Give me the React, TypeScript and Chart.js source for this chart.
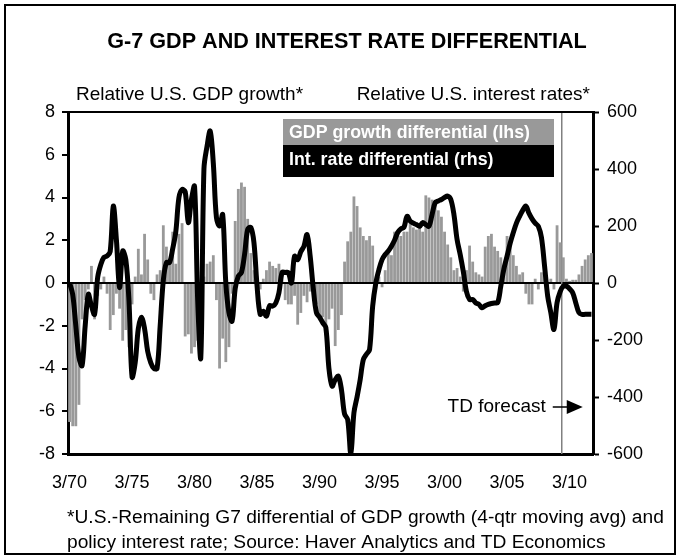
import React, { useEffect, useRef } from 'react';
import { Chart, registerables } from 'chart.js';

Chart.register(...registerables);

const FONT = '"Liberation Sans", Arial, Helvetica, sans-serif';

// Categories: quarters 1970Q1 .. 2011Q4
const firstYear = 1970;
const lastYear = 2011;
const quarters: string[] = [];
for (let y = firstYear; y <= lastYear; y++) {
  for (let q = 1; q <= 4; q++) quarters.push(`${y}Q${q}`);
}

// GDP growth differential (lhs, %), one value per quarter
const gdpDifferential: number[] = [
  -6.5, -6.7, -6.7, -5.7, // 1970
  -1.7, -0.8, -0.3, 0.8, // 1971
  -1.7, -0.6, -0.3, 0.3, // 1972
  -0.5, -2.2, -1.5, -0.5, // 1973
  -1.2, -2.7, -2.2, -3.0, // 1974
  -1.0, 0.3, 1.6, 0.4, // 1975
  2.3, 1.1, -0.5, -0.8, // 1976
  0.4, 0.6, 2.7, 1.7, // 1977
  0.9, 2.4, 0.9, 2.3, // 1978
  2.8, -2.5, -2.4, -3.3, // 1979
  -3.0, -2.7, -3.5, 0.3, // 1980
  0.9, 1.0, 1.3, -0.8, // 1981
  -4.0, -2.6, -3.7, -3.0, // 1982
  -0.5, 2.9, 4.4, 4.7, // 1983
  4.5, 3.0, 1.4, 0.6, // 1984
  0.3, -0.3, 0.2, 0.6, // 1985
  1.0, 0.8, 0.7, 0.9, // 1986
  0.5, -0.8, -1.0, -1.0, // 1987
  -0.6, -1.95, -1.4, -0.6, // 1988
  -0.9, -0.4, -0.5, -1.0, // 1989
  -1.6, -1.6, -2.1, -1.7, // 1990
  -1.2, -2.95, -2.2, -1.5, // 1991
  1.0, 1.95, 2.4, 4.05, // 1992
  3.6, 2.6, 2.2, 2.0, // 1993
  2.2, 1.75, -0.3, 0.3, // 1994
  -0.2, 0.6, 1.4, 1.3, // 1995
  2.4, 2.3, 2.2, 2.4, // 1996
  2.4, 2.8, 2.6, 2.5, // 1997
  2.7, 2.4, 4.1, 4.0, // 1998
  3.9, 3.6, 3.4, 3.1, // 1999
  2.4, 1.8, 1.2, 0.6, // 2000
  0.7, 0.3, -0.4, 0.6, // 2001
  1.75, 1.0, 0.5, 0.4, // 2002
  0.3, 1.7, 2.2, 2.3, // 2003
  1.7, 1.5, 1.2, 0.5, // 2004
  2.2, 1.9, 1.3, 0.8, // 2005
  0.4, 0.5, -0.5, -1.0, // 2006
  -1.0, 0.2, -0.3, 0.5, // 2007
  0.9, -0.5, 0.2, -0.3, // 2008
  2.7, 1.9, 1.2, 0.2, // 2009
  0.1, 0.15, 0.15, 0.4, // 2010
  0.8, 1.1, 1.3, 1.4, // 2011
];

// Policy interest rate differential (rhs, basis points), one value per quarter
const rateDifferential: number[] = [
  0, -40, -150, -260, // 1970
  -290, -150, -40, -80, // 1971
  -110, 20, 65, 90, // 1972
  95, 110, 270, 150, // 1973
  -16, 112, 82, -60, // 1974
  -330, -280, -160, -120, // 1975
  -160, -240, -280, -300, // 1976
  -300, -150, 10, 72, // 1977
  72, 120, 180, 300, // 1978
  328, 320, 212, 293, // 1979
  339, -60, -261, 400, // 1980
  480, 533, 420, 230, // 1981
  200, 240, 0, -104, // 1982
  -134, -20, 24, 37, // 1983
  100, 188, 195, 142, // 1984
  -11, -110, -99, -116, // 1985
  -80, -81, -70, -34, // 1986
  37, 37, 37, 0, // 1987
  94, 82, 110, 129, // 1988
  170, 94, -20, -104, // 1989
  -120, -139, -156, -300, // 1990
  -362, -340, -327, -374, // 1991
  -460, -479, -600, -455, // 1992
  -400, -339, -269, -250, // 1993
  -234, -81, 0, 47, // 1994
  82, 100, 112, 129, // 1995
  150, 177, 190, 195, // 1996
  234, 217, 210, 205, // 1997
  199, 212, 205, 199, // 1998
  240, 282, 288, 293, // 1999
  300, 305, 293, 240, // 2000
  153, 100, 40, -30, // 2001
  -58, -58, -70, -75, // 2002
  -87, -80, -75, -72, // 2003
  -70, -69, -11, 50, // 2004
  94, 140, 177, 210, // 2005
  234, 255, 270, 245, // 2006
  225, 210, 199, 160, // 2007
  60, -46, -104, -163, // 2008
  -69, -30, -11, -11, // 2009
  -20, -34, -70, -104, // 2010
  -110, -110, -110, -110, // 2011
];

const xTickLabels = ['3/70', '3/75', '3/80', '3/85', '3/90', '3/95', '3/00', '3/05', '3/10'];
const xTickEvery = 20; // quarters between labelled ticks
const forecastStart = '2009Q3';

const TITLE = 'G-7 GDP AND INTEREST RATE DIFFERENTIAL';
const LEFT_AXIS_TITLE = 'Relative U.S. GDP growth*';
const RIGHT_AXIS_TITLE = 'Relative U.S. interest rates*';
const LEGEND_GDP = 'GDP growth differential (lhs)';
const LEGEND_RATE = 'Int. rate differential (rhs)';
const FORECAST_NOTE = 'TD forecast';
const FOOTNOTE = [
  '*U.S.-Remaining G7 differential of GDP growth (4-qtr moving avg) and',
  'policy interest rate; Source: Haver Analytics and TD Economics',
];

const GRAY = '#999999';

const overlay = {
  id: 'overlay',
  beforeDraw(chart: any) {
    const { ctx } = chart;
    ctx.save();
    ctx.fillStyle = '#ffffff';
    ctx.fillRect(0, 0, chart.width, chart.height);
    ctx.restore();
  },
  beforeDatasetsDraw(chart: any) {
    const { ctx, chartArea: a } = chart;
    const xs = chart.scales.x;
    const idx = quarters.indexOf(forecastStart);
    const fx = (xs.getPixelForValue(idx - 1) + xs.getPixelForValue(idx)) / 2;
    ctx.save();
    ctx.strokeStyle = '#808080';
    ctx.lineWidth = 1.5;
    ctx.beginPath();
    ctx.moveTo(fx, a.top);
    ctx.lineTo(fx, a.bottom);
    ctx.stroke();
    ctx.restore();
  },
  afterDraw(chart: any) {
    const { ctx, chartArea: a } = chart;
    const xs = chart.scales.x;
    const idx = quarters.indexOf(forecastStart);
    const fx = (xs.getPixelForValue(idx - 1) + xs.getPixelForValue(idx)) / 2;
    ctx.save();
    // top axis line
    ctx.strokeStyle = '#000';
    ctx.lineWidth = 2;
    ctx.beginPath();
    ctx.moveTo(a.left - 1, a.top);
    ctx.lineTo(a.right + 1, a.top);
    ctx.stroke();

    // title
    ctx.fillStyle = '#000';
    ctx.textBaseline = 'middle';
    ctx.textAlign = 'center';
    ctx.font = `bold 21.6px ${FONT}`;
    ctx.fillText(TITLE, 347, 42);

    // axis titles
    ctx.font = `19px ${FONT}`;
    ctx.textAlign = 'left';
    ctx.fillText(LEFT_AXIS_TITLE, 76, 95);
    ctx.textAlign = 'right';
    ctx.fillText(RIGHT_AXIS_TITLE, 590, 95);

    // legend
    ctx.fillStyle = GRAY;
    ctx.fillRect(283, 119, 271, 26);
    ctx.fillStyle = '#000';
    ctx.fillRect(283, 145, 271, 32);
    ctx.fillStyle = '#fff';
    ctx.font = `bold 17.8px ${FONT}`;
    ctx.textAlign = 'left';
    ctx.fillText(LEGEND_GDP, 289, 133);
    ctx.fillText(LEGEND_RATE, 289, 160);

    // forecast note with arrow
    ctx.fillStyle = '#000';
    ctx.font = `19px ${FONT}`;
    ctx.textAlign = 'right';
    const ny = 407;
    ctx.fillText(FORECAST_NOTE, fx - 16, ny);
    ctx.strokeStyle = '#000';
    ctx.lineWidth = 1.5;
    ctx.beginPath();
    ctx.moveTo(fx - 9, ny);
    ctx.lineTo(fx + 6, ny);
    ctx.stroke();
    ctx.beginPath();
    ctx.moveTo(fx + 5, ny - 7);
    ctx.lineTo(fx + 21, ny);
    ctx.lineTo(fx + 5, ny + 7);
    ctx.closePath();
    ctx.fill();

    // footnote
    ctx.font = `19.2px ${FONT}`;
    ctx.textAlign = 'left';
    ctx.fillText(FOOTNOTE[0], 67, 518);
    ctx.fillText(FOOTNOTE[1], 67, 543);

    // outer frame
    ctx.strokeStyle = '#000';
    ctx.lineWidth = 2;
    ctx.strokeRect(5, 5, 670, 549);
    ctx.restore();
  },
};

export default function App() {
  const ref = useRef<HTMLCanvasElement | null>(null);

  useEffect(() => {
    if (!ref.current) return;
    const chart = new Chart(ref.current, {
      type: 'bar',
      data: {
        labels: quarters,
        datasets: [
          {
            type: 'line',
            label: LEGEND_RATE,
            data: rateDifferential,
            yAxisID: 'y1',
            borderColor: '#000',
            borderWidth: 5,
            pointRadius: 0,
            tension: 0.35,
            fill: false,
            order: 0,
          } as any,
          {
            type: 'bar',
            label: LEGEND_GDP,
            data: gdpDifferential,
            yAxisID: 'y',
            backgroundColor: GRAY,
            borderWidth: 0,
            barPercentage: 0.9,
            categoryPercentage: 1.0,
            order: 1,
          },
        ],
      },
      options: {
        responsive: false,
        animation: false,
        devicePixelRatio: 1,
        layout: { padding: { top: 112, left: 0, right: 0, bottom: 0 } },
        plugins: {
          legend: { display: false },
          title: { display: false },
          tooltip: { enabled: false },
        },
        scales: {
          x: {
            type: 'category',
            offset: true,
            grid: { display: false, drawTicks: false, tickLength: 0 },
            border: { display: true, color: '#000', width: 3 },
            ticks: {
              autoSkip: false,
              maxRotation: 0,
              minRotation: 0,
              padding: 18,
              color: '#000',
              font: { family: FONT, size: 18 },
              callback: (_v: any, i: number) =>
                i % xTickEvery === 0 ? xTickLabels[i / xTickEvery] ?? '' : '',
            },
            afterFit: (s: any) => {
              s.height = 105;
            },
          },
          y: {
            position: 'left',
            min: -8,
            max: 8,
            grid: {
              display: true,
              drawOnChartArea: true,
              drawTicks: true,
              tickLength: 6,
              tickColor: '#000',
              tickWidth: 2,
              lineWidth: 2,
              color: (c: any) => (c.tick && c.tick.value === 0 ? '#000' : 'rgba(0,0,0,0)'),
            },
            border: { display: true, color: '#000', width: 3 },
            ticks: {
              stepSize: 2,
              padding: 7,
              color: '#000',
              font: { family: FONT, size: 18 },
            },
            afterFit: (s: any) => {
              s.width = 68;
            },
          },
          y1: {
            position: 'right',
            min: -600,
            max: 600,
            grid: {
              display: true,
              drawOnChartArea: false,
              drawTicks: true,
              tickLength: 6,
              tickColor: '#000',
              tickWidth: 2,
            },
            border: { display: true, color: '#000', width: 3 },
            ticks: {
              stepSize: 200,
              padding: 8,
              color: '#000',
              font: { family: FONT, size: 18 },
            },
            afterFit: (s: any) => {
              s.width = 87;
            },
          },
        },
      },
      plugins: [overlay],
    });
    return () => chart.destroy();
  }, []);

  return (
    <div style={{ position: 'absolute', left: 0, top: 0, width: 680, height: 559, background: '#fff' }}>
      <canvas ref={ref} width={680} height={559} style={{ display: 'block', width: 680, height: 559 }} />
    </div>
  );
}
